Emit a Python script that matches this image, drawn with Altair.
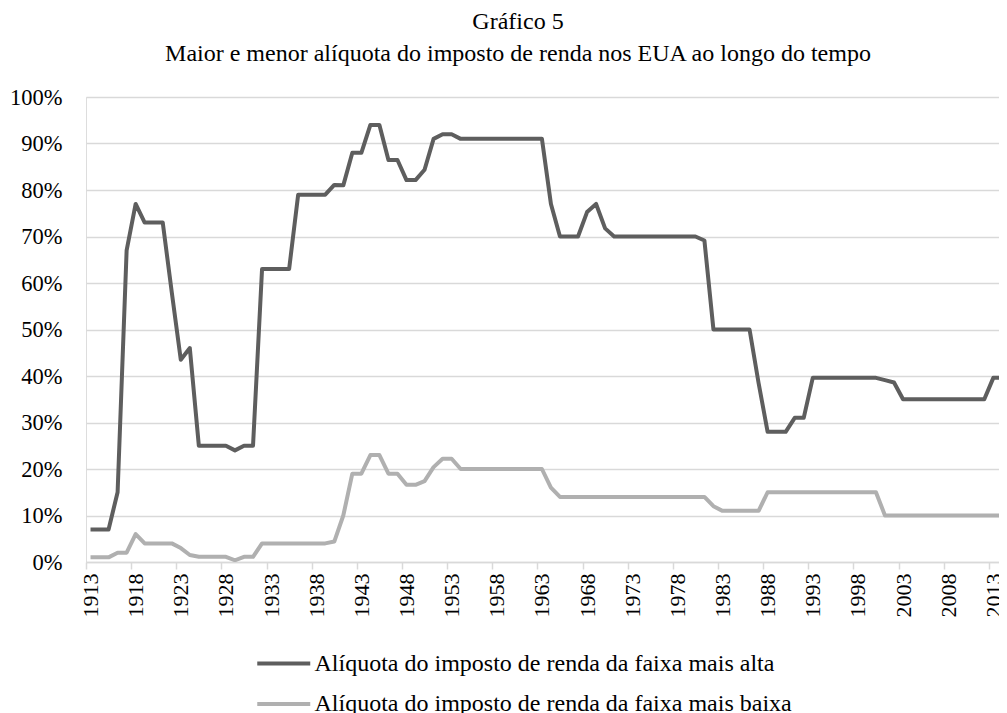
import altair as alt
import pandas as pd

years = list(range(1913, 2016))

top_rate = [
    7, 7, 7, 15, 67, 77, 73, 73, 73, 58,                      # 1913-1922
    43.5, 46, 25, 25, 25, 25, 24, 25, 25, 63,                 # 1923-1932
    63, 63, 63, 79, 79, 79, 79, 81.1, 81, 88,                 # 1933-1942
    88, 94, 94, 86.45, 86.45, 82.13, 82.13, 84.36, 91, 92,    # 1943-1952
    92, 91, 91, 91, 91, 91, 91, 91, 91, 91,                   # 1953-1962
    91, 77, 70, 70, 70, 75.25, 77, 71.75, 70, 70,             # 1963-1972
    70, 70, 70, 70, 70, 70, 70, 70, 69.13, 50,                # 1973-1982
    50, 50, 50, 50, 38.5, 28, 28, 28, 31, 31,                 # 1983-1992
    39.6, 39.6, 39.6, 39.6, 39.6, 39.6, 39.6, 39.6, 39.1, 38.6,  # 1993-2002
    35, 35, 35, 35, 35, 35, 35, 35, 35, 35,                   # 2003-2012
    39.6, 39.6, 39.6,                                         # 2013-2015
]

low_rate = [
    1, 1, 1, 2, 2, 6, 4, 4, 4, 4,                             # 1913-1922
    3, 1.5, 1.125, 1.125, 1.125, 1.125, 0.375, 1.125, 1.125, 4,  # 1923-1932
    4, 4, 4, 4, 4, 4, 4, 4.4, 10, 19,                         # 1933-1942
    19, 23, 23, 19, 19, 16.6, 16.6, 17.4, 20.4, 22.2,         # 1943-1952
    22.2, 20, 20, 20, 20, 20, 20, 20, 20, 20,                 # 1953-1962
    20, 16, 14, 14, 14, 14, 14, 14, 14, 14,                   # 1963-1972
    14, 14, 14, 14, 14, 14, 14, 14, 14, 12,                   # 1973-1982
    11, 11, 11, 11, 11, 15, 15, 15, 15, 15,                   # 1983-1992
    15, 15, 15, 15, 15, 15, 15, 15, 10, 10,                   # 1993-2002
    10, 10, 10, 10, 10, 10, 10, 10, 10, 10,                   # 2003-2012
    10, 10, 10,                                               # 2013-2015
]

series_names = [
    "Alíquota do imposto de renda da faixa mais alta",
    "Alíquota do imposto de renda da faixa mais baixa",
]
series_colors = ["#5e5e5e", "#b0b0b0"]

label_years = list(range(1913, 2014, 5))
y_ticks = list(range(0, 101, 10))

title_lines = [
    "Gráfico 5",
    "Maior e menor alíquota do imposto de renda nos EUA ao longo do tempo",
]

rows = []
for name, vals in zip(series_names, [top_rate, low_rate]):
    for yr, v in zip(years, vals):
        rows.append({"ano": yr, "taxa": v, "serie": name})
df = pd.DataFrame(rows)

FONT = "Liberation Serif"

chart = (
    alt.Chart(df)
    .mark_line(strokeWidth=4, clip=True, strokeJoin="round")
    .encode(
        x=alt.X(
            "ano:Q",
            scale=alt.Scale(domain=[1912.5, 2013.63], nice=False, zero=False),
            axis=alt.Axis(
                values=label_years,
                format="d",
                labelAngle=-90,
                tickOffset=-4.5,
                labelOffset=4.5,
                grid=False,
                domainColor="#d9d9d9",
                domainWidth=1.5,
                tickColor="#d9d9d9",
                tickWidth=1.5,
                tickSize=7,
                labelPadding=4,
                labelFont=FONT,
                labelFontSize=22,
                labelColor="black",
                labelOverlap=False,
            ),
            title=None,
        ),
        y=alt.Y(
            "taxa:Q",
            scale=alt.Scale(domain=[0, 100], nice=False),
            axis=alt.Axis(
                values=y_ticks,
                labelExpr="datum.value + '%'",
                domain=False,
                ticks=False,
                tickSize=0,
                labelPadding=24,
                gridColor="#d9d9d9",
                gridWidth=1.5,
                labelFont=FONT,
                labelFontSize=22.5,
                labelColor="black",
            ),
            title=None,
        ),
        color=alt.Color(
            "serie:N",
            scale=alt.Scale(domain=series_names, range=series_colors),
            legend=alt.Legend(
                orient="none",
                legendX=195.5,
                legendY=551,
                direction="vertical",
                title=None,
                symbolType="M-3,0L1,0",
                symbolSize=702,
                symbolStrokeWidth=4,
                labelFont=FONT,
                labelFontSize=24,
                labelColor="black",
                labelOffset=2,
                rowPadding=12.5,
                padding=0,
                labelLimit=0,
            ),
        ),
    )
    .properties(
        width=913,
        height=465,
        padding={"left": 78, "top": 89, "right": 0, "bottom": 151},
        autosize=alt.AutoSizeParams(type="none"),
        title=alt.TitleParams(
            text=title_lines,
            font=FONT,
            fontSize=24,
            fontWeight="normal",
            color="black",
            anchor="middle",
            lineHeight=32,
            dx=-24.5,
            offset=20,
        ),
    )
    .configure_view(stroke=None)
    .configure(background="white")
)

chart.save("out.html", embed_options={"renderer": "svg", "actions": False})
